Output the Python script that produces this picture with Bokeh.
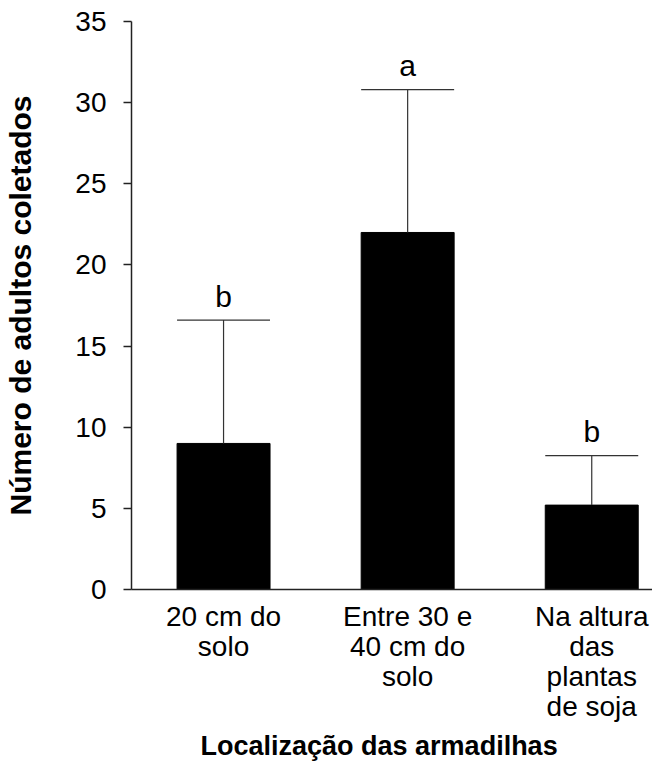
from bokeh.plotting import figure
from bokeh.models import FixedTicker, Range1d, ColumnDataSource, Title
from bokeh.embed import file_html
from bokeh.resources import INLINE
from bokeh.core.properties import value

# Data
categories = ["20 cm do\nsolo", "Entre 30 e\n40 cm do\nsolo", "Na altura\ndas\nplantas\nde soja"]
means = [9.0, 22.0, 5.2]
errors = [7.6, 8.8, 3.05]
letters = ["b", "a", "b"]
y_ticks = [0, 5, 10, 15, 20, 25, 30, 35]
y_title = "Número de adultos coletados"
x_title = "Localização das armadilhas"

xs = list(range(len(categories)))
uppers = [m + e for m, e in zip(means, errors)]
bar_w = 0.505

src = ColumnDataSource(dict(x=xs, top=means, up=uppers, lab=letters,
                            xl=[x - bar_w / 2 for x in xs], xr=[x + bar_w / 2 for x in xs]))

FONT = "Liberation Sans"

p = figure(width=652, height=765, output_backend="svg", toolbar_location=None,
           x_range=Range1d(-0.5, 2.33), y_range=Range1d(0, 35),
           min_border_left=131, min_border_right=0, min_border_top=21, min_border_bottom=175)
p.outline_line_color = None
p.xgrid.visible = False
p.ygrid.visible = False
p.background_fill_color = "white"
p.border_fill_color = "white"

p.vbar(x="x", top="top", width=bar_w, bottom=0, source=src, fill_color="black", line_color="black")
p.segment(x0="x", y0="top", x1="x", y1="up", source=src, line_color="#333333", line_width=1.2)
p.segment(x0="xl", y0="up", x1="xr", y1="up", source=src, line_color="#333333", line_width=1.2)
p.text(x="x", y="up", text="lab", source=src, text_align="center", text_baseline="alphabetic",
       y_offset=-24, text_font=value(FONT), text_font_size="30px", text_color="black")

# Y axis
ya = p.yaxis[0]
ya.ticker = FixedTicker(ticks=y_ticks)
ya.minor_tick_line_color = None
ya.major_tick_in = 0
ya.major_tick_out = 8
ya.axis_line_width = 1.5
ya.axis_line_color = "#222222"
ya.major_tick_line_color = "#222222"
ya.major_tick_line_width = 1.5
ya.major_label_text_font = FONT
ya.major_label_text_font_size = "28px"
ya.major_label_text_color = "black"
ya.major_label_standoff = 17
ya.axis_label = y_title
ya.axis_label_text_font = FONT
ya.axis_label_text_font_style = "bold"
ya.axis_label_text_font_size = "30px"
ya.axis_label_text_color = "black"
ya.axis_label_standoff = 35

# X axis
xa = p.xaxis[0]
xa.ticker = FixedTicker(ticks=xs)
xa.major_label_overrides = {i: c for i, c in zip(xs, categories)}
xa.minor_tick_line_color = None
xa.major_tick_in = 0
xa.major_tick_out = 0
xa.axis_line_width = 1.5
xa.axis_line_color = "#222222"
xa.major_label_text_font = FONT
xa.major_label_text_font_size = "28px"
xa.major_label_text_line_height = 0.97
xa.major_label_text_color = "black"
xa.major_label_standoff = 11

xt = Title(text=x_title, align="left", offset=69, standoff=9,
           text_font=FONT, text_font_style="bold", text_font_size="27px", text_color="black")
p.add_layout(xt, "below")

open("out.html", "w").write(file_html(p, INLINE))
